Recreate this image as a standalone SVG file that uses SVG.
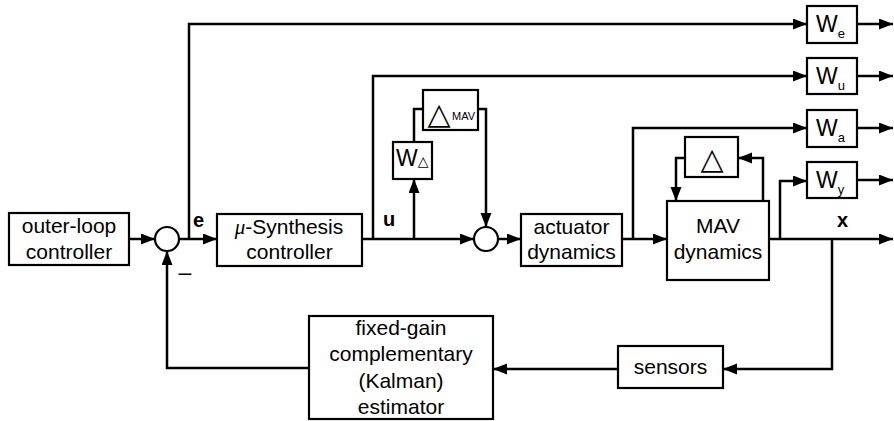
<svg xmlns="http://www.w3.org/2000/svg" width="894" height="421" viewBox="0 0 894 421">
<defs>
<marker id="ah" markerUnits="userSpaceOnUse" markerWidth="15" markerHeight="12" refX="14" refY="5.5" orient="auto">
<path d="M0,0 L14,5.5 L0,11 z" fill="#000"/>
</marker>
<style>
.box{fill:#fff;stroke:#000;stroke-width:2.2}
.t{font-family:"Liberation Sans",Arial,sans-serif;font-size:21px;fill:#000;text-anchor:middle}
.w{font-family:"Liberation Sans",Arial,sans-serif;font-size:23px;fill:#000}
.sub{font-size:13px}
.lbl{font-family:"Liberation Sans",Arial,sans-serif;font-size:20px;font-weight:bold;fill:#000}
.tri{font-family:"DejaVu Sans",sans-serif;font-size:30px;fill:#000;text-anchor:middle}
.c{fill:none;stroke:#000;stroke-width:2.5}
.a{marker-end:url(#ah)}
</style>
</defs>
<g id="connectors">
<path class="c a" d="M129,239 H155"/>
<path class="c a" d="M179,239 H217"/>
<path class="c a" d="M189,239 V24 H807"/>
<path class="c a" d="M362,239 H474"/>
<path class="c a" d="M373,239 V76 H807"/>
<path class="c a" d="M414,239 V179"/>
<path class="c" d="M414,142 V109 H423"/>
<path class="c a" d="M478,109 H486 V227"/>
<path class="c a" d="M498,239 H521"/>
<path class="c a" d="M622,239 H667"/>
<path class="c a" d="M633,239 V128 H807"/>
<path class="c a" d="M763,201 V158 H738"/>
<path class="c a" d="M685,158 H676 V201"/>
<path class="c a" d="M769,239 H893"/>
<path class="c a" d="M780,239 V181 H807"/>
<path class="c a" d="M832,239 V369 H723"/>
<path class="c a" d="M618,369 H493"/>
<path class="c a" d="M309,368 H167 V251"/>
<path class="c a" d="M857,24 H893"/>
<path class="c a" d="M857,76 H893"/>
<path class="c a" d="M857,128 H893"/>
<path class="c a" d="M857,180 H893"/>
</g>
<g id="outer-loop">
<rect class="box" x="9" y="213" width="120" height="52"/>
<text class="t" x="69" y="233">outer-loop</text>
<text class="t" x="69" y="259">controller</text>
</g>
<g id="sum1">
<circle cx="167" cy="239" r="12" fill="#fff" stroke="#000" stroke-width="2.2"/>
<text x="185" y="280" font-family="Liberation Sans,Arial,sans-serif" font-size="23" text-anchor="middle">–</text>
</g>
<g id="mu-synthesis">
<rect class="box" x="217" y="214" width="145" height="52"/>
<text class="t" x="289" y="234"><tspan font-family="Liberation Serif,serif" font-style="italic">μ</tspan>-Synthesis</text>
<text class="t" x="289.5" y="259">controller</text>
</g>
<g id="label-e"><text class="lbl" x="193" y="227">e</text></g>
<g id="label-u"><text class="lbl" x="383" y="226">u</text></g>
<g id="label-x"><text class="lbl" x="837" y="227">x</text></g>
<g id="W-delta">
<rect class="box" x="393" y="142" width="39" height="37"/>
<text class="w" x="396" y="166" font-size="20">W<tspan font-family="DejaVu Sans,sans-serif" font-size="14">△</tspan></text>
</g>
<g id="delta-MAV">
<rect class="box" x="423" y="90" width="55" height="40"/>
<text class="tri" x="439" y="124">△</text>
<text x="452" y="120" font-family="Liberation Sans,Arial,sans-serif" font-size="11">MAV</text>
</g>
<g id="sum2">
<circle cx="486" cy="239" r="12" fill="#fff" stroke="#000" stroke-width="2.2"/>
</g>
<g id="actuator">
<rect class="box" x="521" y="214" width="101" height="52"/>
<text class="t" x="571.5" y="234">actuator</text>
<text class="t" x="571.5" y="259">dynamics</text>
</g>
<g id="MAV-dynamics">
<rect class="box" x="667" y="201" width="102" height="79"/>
<text class="t" x="718" y="233">MAV</text>
<text class="t" x="718" y="259">dynamics</text>
</g>
<g id="delta">
<rect class="box" x="685" y="137" width="53" height="40"/>
<text class="tri" x="712" y="169">△</text>
</g>
<g id="W-e">
<rect class="box" x="807" y="6" width="50" height="37"/>
<text class="w" x="816" y="32">W<tspan class="sub" dy="6">e</tspan></text>
</g>
<g id="W-u">
<rect class="box" x="807" y="58" width="50" height="36"/>
<text class="w" x="816" y="84">W<tspan class="sub" dy="6">u</tspan></text>
</g>
<g id="W-a">
<rect class="box" x="807" y="110" width="50" height="37"/>
<text class="w" x="816" y="136">W<tspan class="sub" dy="6">a</tspan></text>
</g>
<g id="W-y">
<rect class="box" x="807" y="162" width="50" height="36"/>
<text class="w" x="816" y="188">W<tspan class="sub" dy="6">y</tspan></text>
</g>
<g id="sensors">
<rect class="box" x="618" y="346" width="105" height="42"/>
<text class="t" x="670.5" y="374">sensors</text>
</g>
<g id="estimator">
<rect class="box" x="309" y="316" width="184" height="103"/>
<text class="t" x="401" y="335">fixed-gain</text>
<text class="t" x="401" y="361">complementary</text>
<text class="t" x="401" y="388">(Kalman)</text>
<text class="t" x="401" y="414">estimator</text>
</g>
</svg>
